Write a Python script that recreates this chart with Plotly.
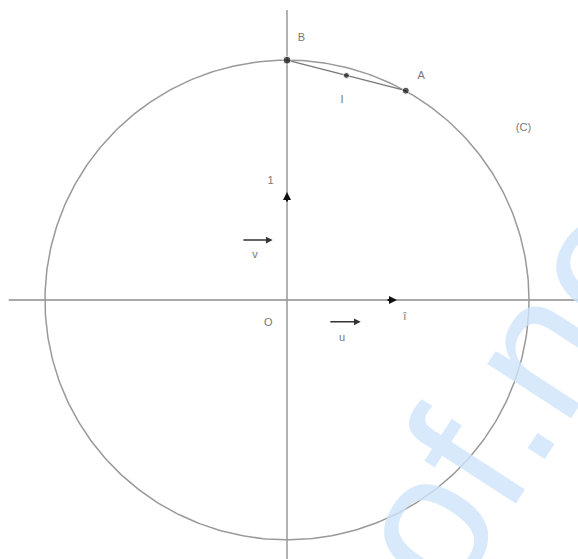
import numpy as np
import plotly.graph_objects as go

# ---- data (unit = axis unit) ----
radius = 2.2
point_names = ["B", "A", "I"]
point_x = [0.0, 1.08, 0.54]
point_y = [2.2, 1.92, 2.06]
label_names = ["B", "A", "I", "(C)", "O", "î", "1", "u", "v"]
label_x = [0.13, 1.22, 0.5, 2.15, -0.17, 1.07, -0.15, 0.5, -0.29]
label_y = [2.4, 2.05, 1.83, 1.58, -0.21, -0.16, 1.09, -0.35, 0.41]
vec_names = ["u", "v"]
vec_x0 = [0.38, -0.41]
vec_y0 = [-0.2, 0.55]
vec_x1 = [0.67, -0.13]
vec_y1 = [-0.2, 0.55]
unit_ticks_x = [1.0, 0.0]
unit_ticks_y = [0.0, 0.99]

fig = go.Figure()

# watermark
fig.add_annotation(x=2.02, y=-0.86, xref="x", yref="y", text="of.ne", showarrow=False,
                   textangle=-57, font=dict(size=189, color="rgba(205,228,250,0.8)",
                                            family="Liberation Sans, Arial"))

# axes lines
fig.add_trace(go.Scatter(x=[-2.53, 2.65], y=[0, 0], mode="lines",
                         line=dict(color="#555", width=1.2), hoverinfo="skip"))
fig.add_trace(go.Scatter(x=[0, 0], y=[2.66, -2.4], mode="lines",
                         line=dict(color="#999", width=1.5), hoverinfo="skip"))

# circle
t = np.linspace(0, 2 * np.pi, 400)
fig.add_trace(go.Scatter(x=radius * np.cos(t), y=radius * np.sin(t), mode="lines",
                         line=dict(color="#999", width=1.5), hoverinfo="skip"))

# chord BA
fig.add_trace(go.Scatter(x=[point_x[0], point_x[1]], y=[point_y[0], point_y[1]], mode="lines",
                         line=dict(color="#777", width=1.3), hoverinfo="skip"))

# points
fig.add_trace(go.Scatter(x=point_x, y=point_y, mode="markers",
                         marker=dict(color="#111", size=[8, 7, 6]), hoverinfo="skip"))

# unit vectors arrowheads
for tx, ty in zip(unit_ticks_x, unit_ticks_y):
    fig.add_annotation(x=tx, y=ty, ax=tx * 0.9, ay=ty * 0.9, xref="x", yref="y",
                       axref="x", ayref="y", showarrow=True, arrowhead=2,
                       arrowsize=0.8, arrowwidth=2, arrowcolor="#111", text="")

# u, v vectors
for x0, y0, x1, y1 in zip(vec_x0, vec_y0, vec_x1, vec_y1):
    fig.add_annotation(x=x1, y=y1, ax=x0, ay=y0, xref="x", yref="y",
                       axref="x", ayref="y", showarrow=True, arrowhead=2,
                       arrowsize=0.9, arrowwidth=1.5, arrowcolor="#333", text="")

# labels
fig.add_trace(go.Scatter(x=label_x, y=label_y, mode="text", text=label_names,
                         textfont=dict(color="#777", size=11, family="Liberation Sans, Arial"),
                         hoverinfo="skip"))

fig.update_layout(
    width=578, height=559, margin=dict(l=0, r=0, t=0, b=0),
    paper_bgcolor="white", plot_bgcolor="white", showlegend=False,
    xaxis=dict(range=[-287 / 110, 291 / 110], visible=False, fixedrange=True),
    yaxis=dict(range=[-259 / 109, 300 / 109], visible=False, fixedrange=True),
)

fig.write_html("out.html", config={"displayModeBar": False},
               post_script="document.body.style.margin='0';window.dispatchEvent(new Event('resize'));")
